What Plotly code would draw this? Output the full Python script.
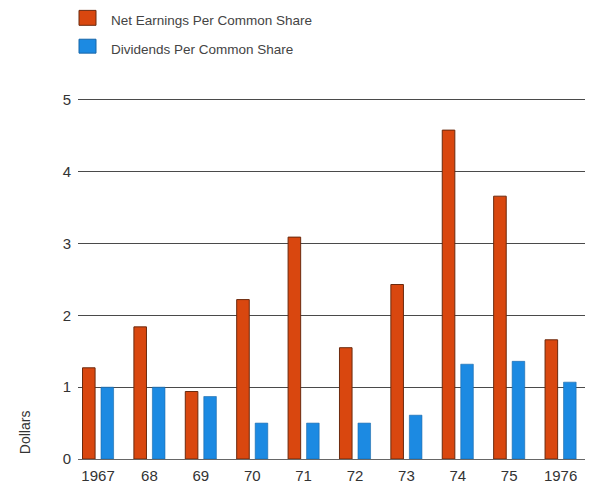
import plotly.graph_objects as go

years = ["1967", "68", "69", "70", "71", "72", "73", "74", "75", "1976"]
net_earnings = [1.27, 1.84, 0.94, 2.22, 3.09, 1.55, 2.43, 4.58, 3.66, 1.66]
dividends = [1.00, 1.00, 0.87, 0.50, 0.50, 0.50, 0.61, 1.32, 1.36, 1.07]
series_names = ["Net Earnings Per Common Share", "Dividends Per Common Share"]
y_ticks = [0, 1, 2, 3, 4, 5]

RED = "#d9470f"
BLUE = "#1c8ae2"
FONT = "Liberation Sans, Arial, sans-serif"

fig = go.Figure()
fig.add_trace(go.Bar(x=years, y=net_earnings, name=series_names[0],
                     marker=dict(color=RED, line=dict(color="#6b2a0e", width=1))))
fig.add_trace(go.Bar(x=years, y=dividends, name=series_names[1],
                     marker=dict(color=BLUE, line=dict(color="#1766a8", width=0.6))))

W, H = 590, 489
L, R, T, B = 78, 5, 82, 28
pw, ph = W - L - R, H - T - B

def px_x(x):
    return (x - L) / pw

def px_y(y):
    return (H - B - y) / ph

# manual legend
for i, (name, col, lc, y0, y1) in enumerate([
        (series_names[0], RED, "#6b2a0e", 10, 25),
        (series_names[1], BLUE, "#1766a8", 39, 53)]):
    fig.add_shape(type="rect", xref="paper", yref="paper",
                  x0=px_x(79), x1=px_x(96), y0=px_y(y1), y1=px_y(y0),
                  fillcolor=col, line=dict(color=lc, width=1))
    fig.add_annotation(xref="paper", yref="paper", x=px_x(109), y=px_y((y0 + y1) / 2 + 3),
                       text=name, showarrow=False, xanchor="left", yanchor="middle",
                       font=dict(family=FONT, size=13.5, color="#444"))

fig.add_annotation(xref="paper", yref="paper", x=px_x(25), y=px_y(434),
                   text="Dollars", textangle=-90, showarrow=False,
                   xanchor="center", yanchor="middle",
                   font=dict(family=FONT, size=14, color="#333"))

fig.update_layout(
    width=W, height=H,
    margin=dict(l=L, r=R, t=T, b=B),
    paper_bgcolor="white", plot_bgcolor="white",
    barmode="group", bargap=0.28, bargroupgap=0.32,
    showlegend=False,
    font=dict(family=FONT, color="#333"),
    xaxis=dict(type="category", range=[-0.39, 9.475], showgrid=False,
               showline=False, zeroline=False, ticks="",
               tickfont=dict(size=15, color="#333"), ticklabelstandoff=6),
    yaxis=dict(range=[0, 5.25], tickvals=y_ticks, ticktext=[str(v) for v in y_ticks],
               showgrid=True, gridcolor="#4a4a4a", gridwidth=1,
               zeroline=True, zerolinecolor="#666", zerolinewidth=1,
               showline=False, ticks="", tickfont=dict(size=15, color="#333"),
               ticklabelstandoff=6),
)

fig.write_html("out.html")
